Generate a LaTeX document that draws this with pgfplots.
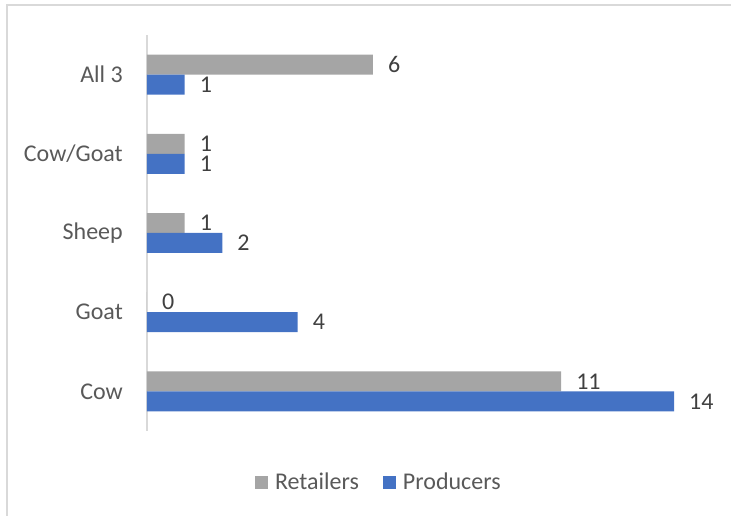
\documentclass[border=0pt]{standalone}
\usepackage{pgfplots}
\pgfplotsset{compat=1.18}
\usepackage{fontspec}
\setmainfont{Carlito}
\definecolor{retgray}{HTML}{A5A5A5}
\definecolor{problue}{HTML}{4472C4}
\definecolor{linegray}{HTML}{D9D9D9}
\definecolor{txtgray}{HTML}{595959}
\definecolor{lblgray}{HTML}{404040}
\newcommand{\cf}{\fontsize{24}{29}\selectfont}
\begin{document}
\begin{tikzpicture}[x=1pt,y=1pt]
\useasboundingbox (0,0) rectangle (731,516);
\draw[linegray, line width=2pt] (7,0) -- (7,511) -- (731,511);
\begin{axis}[
  at={(147pt,85pt)}, anchor=south west,
  scale only axis, width=527pt, height=396pt,
  xmin=0, xmax=14, ymin=-0.5, ymax=4.5,
  axis x line=none, axis y line=left,
  y axis line style={draw=linegray, line width=1.3pt, -},
  ytick={0,1,2,3,4},
  yticklabels={Cow,Goat,Sheep,Cow/Goat,All 3},
  major tick length=0pt,
  yticklabel style={font=\cf, color=txtgray, inner sep=0pt, anchor=east, xshift=-24pt},
  xbar, bar width=0.2525,
  nodes near coords,
  every node near coord/.append style={font=\cf, color=lblgray, anchor=west, inner sep=0pt, xshift=15pt},
  /pgf/number format/assume math mode=true,
  clip=false,
  legend style={at={(0.438,-0.129)}, anchor=center, draw=none, fill=none,
    legend columns=2, font=\cf, text=txtgray, nodes={inner sep=0pt},
    /tikz/every odd column/.append style={column sep=7pt},
    /tikz/every even column/.append style={column sep=24pt}},
  legend image code/.code={\fill[#1] (0pt,-6.5pt) rectangle (13pt,6.5pt);},
]
\addplot[fill=retgray, draw=none, bar shift=0.126] coordinates {(11,0) (0,1) (1,2) (1,3) (6,4)};
\addplot[fill=problue, draw=none, bar shift=-0.126] coordinates {(14,0) (4,1) (2,2) (1,3) (1,4)};
\legend{Retailers, Producers}
\end{axis}
\end{tikzpicture}
\end{document}
